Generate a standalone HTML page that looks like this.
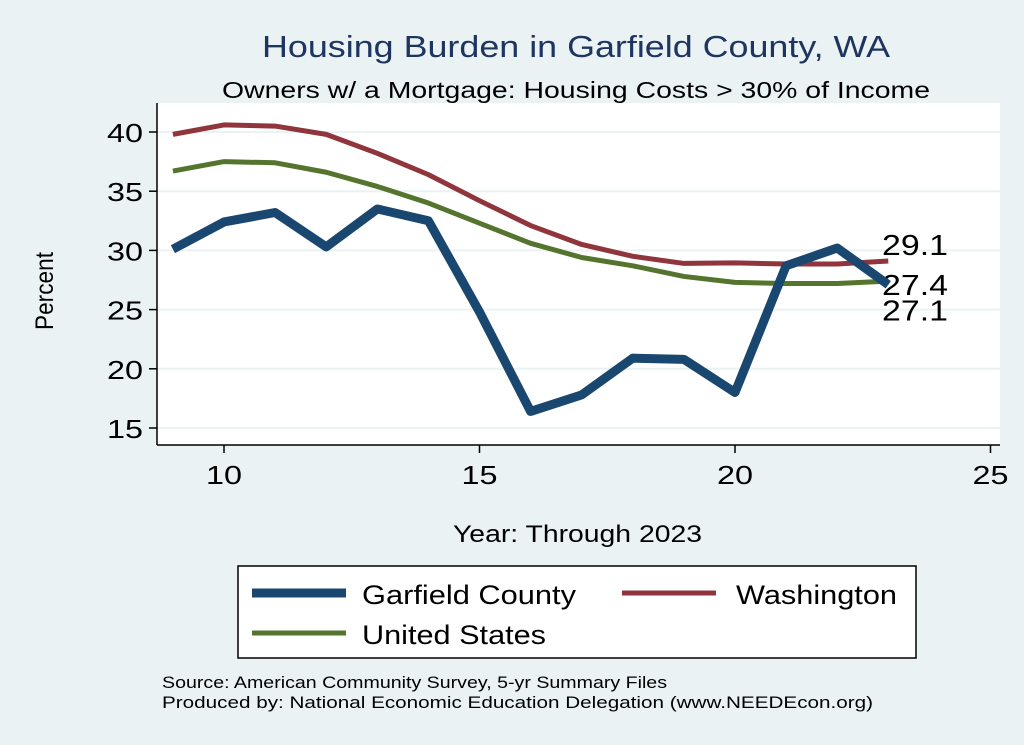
<!DOCTYPE html>
<html><head><meta charset="utf-8"><style>
body{margin:0;background:#eaf2f3;}
svg{display:block;font-family:"Liberation Sans",sans-serif;}
</style></head><body>
<svg id="c" width="1024" height="745" viewBox="0 0 1024 745">
<rect width="1024" height="745" fill="#eaf2f3"/>
<text x="262" y="57" font-size="31" fill="#1e3560" textLength="628" lengthAdjust="spacingAndGlyphs">Housing Burden in Garfield County, WA</text>
<text x="222" y="98" font-size="23" fill="#000" textLength="708" lengthAdjust="spacingAndGlyphs">Owners w/ a Mortgage: Housing Costs &gt; 30% of Income</text>
<rect x="157" y="103" width="843" height="342" fill="#fff"/>
<g id="grid"></g>
<g id="axes"></g>
<g id="series"></g>
<text x="53" y="330" font-size="25" textLength="78" lengthAdjust="spacingAndGlyphs" transform="rotate(-90 53 330)">Percent</text>
<text x="453" y="542" font-size="24" textLength="249" lengthAdjust="spacingAndGlyphs">Year: Through 2023</text>
<g>
<rect x="238" y="566" width="678" height="92" fill="#fff" stroke="#000" stroke-width="1.5"/>
<g><line x1="252" y1="593" x2="346" y2="593" stroke="#1a476f" stroke-width="9"/><text x="362" y="604" font-size="27" textLength="214" lengthAdjust="spacingAndGlyphs">Garfield County</text></g>
<g><line x1="622" y1="593" x2="716" y2="593" stroke="#90353b" stroke-width="5"/><text x="736" y="604" font-size="27" textLength="161" lengthAdjust="spacingAndGlyphs">Washington</text></g>
<g><line x1="252" y1="633" x2="346" y2="633" stroke="#55752f" stroke-width="5"/><text x="362" y="644" font-size="27" textLength="184" lengthAdjust="spacingAndGlyphs">United States</text></g>
</g>
<text x="162" y="688" font-size="17" textLength="505" lengthAdjust="spacingAndGlyphs">Source: American Community Survey, 5-yr Summary Files</text>
<text x="162" y="708" font-size="17" textLength="711" lengthAdjust="spacingAndGlyphs">Produced by: National Economic Education Delegation (www.NEEDEcon.org)</text>
</svg>
<script>
const years=[9,10,11,12,13,14,15,16,17,18,19,20,21,22,23];
const garfield=[30.1,32.4,33.2,30.3,33.5,32.5,24.8,16.4,17.8,20.9,20.8,18.0,28.7,30.2,27.1];
const washington=[39.8,40.6,40.5,39.8,38.2,36.4,34.2,32.1,30.5,29.5,28.9,28.95,28.85,28.85,29.1];
const unitedStates=[36.7,37.5,37.4,36.6,35.4,34.0,32.3,30.6,29.4,28.7,27.8,27.3,27.2,27.2,27.4];
const xTicks=[10,15,20,25];
const yTicks=[15,20,25,30,35,40];
const NS="http://www.w3.org/2000/svg";
const X=v=>224+(v-10)*51.1;
const Y=v=>428-(v-15)*11.84;
function mk(tag,attrs,parent){const e=document.createElementNS(NS,tag);for(const k in attrs)e.setAttribute(k,attrs[k]);document.getElementById(parent).appendChild(e);return e;}
yTicks.forEach(t=>{
 const g=mk('line',{x1:157,x2:1000,y1:Y(t),y2:Y(t),stroke:'#eaf2f3','stroke-width':2},'grid');
 
 
 const tk=mk('line',{x1:149,x2:157,y1:Y(t),y2:Y(t),stroke:'#000','stroke-width':1.5},'axes');
 
 
 const l=mk('text',{x:143,y:Y(t)+10,'font-size':26,'text-anchor':'end',textLength:36,lengthAdjust:'spacingAndGlyphs'},'axes');l.textContent=t;
 
 
});
xTicks.forEach(t=>{
 const tk=mk('line',{x1:X(t),x2:X(t),y1:445,y2:453,stroke:'#000','stroke-width':1.5},'axes');
 
 
 const l=mk('text',{x:X(t),y:484,'font-size':26,'text-anchor':'middle',textLength:36,lengthAdjust:'spacingAndGlyphs'},'axes');l.textContent=t;
 
 
});
const ya=mk('line',{x1:157,x2:157,y1:103,y2:445,stroke:'#000','stroke-width':1.5},'axes');


const xa=mk('line',{x1:157,x2:1000,y1:445,y2:445,stroke:'#000','stroke-width':1.5},'axes');


function series(vals,color,w,name,dy){
 const p=mk('polyline',{points:years.map((y,i)=>X(y)+','+Y(vals[i])).join(' '),fill:'none',stroke:color,'stroke-width':w,'stroke-linejoin':'round'},'series');
 
 
 const last=vals[vals.length-1];
 const l=mk('text',{x:882,y:Y(last)+dy,'font-size':29,textLength:66,lengthAdjust:'spacingAndGlyphs'},'series');l.textContent=last.toFixed(1);
 
 
}
series(washington,'#90353b',5,'washington-line',-6);
series(unitedStates,'#55752f',5,'united-states-line',14);
series(garfield,'#1a476f',9,'garfield-line',36);
</script>
</body></html>
